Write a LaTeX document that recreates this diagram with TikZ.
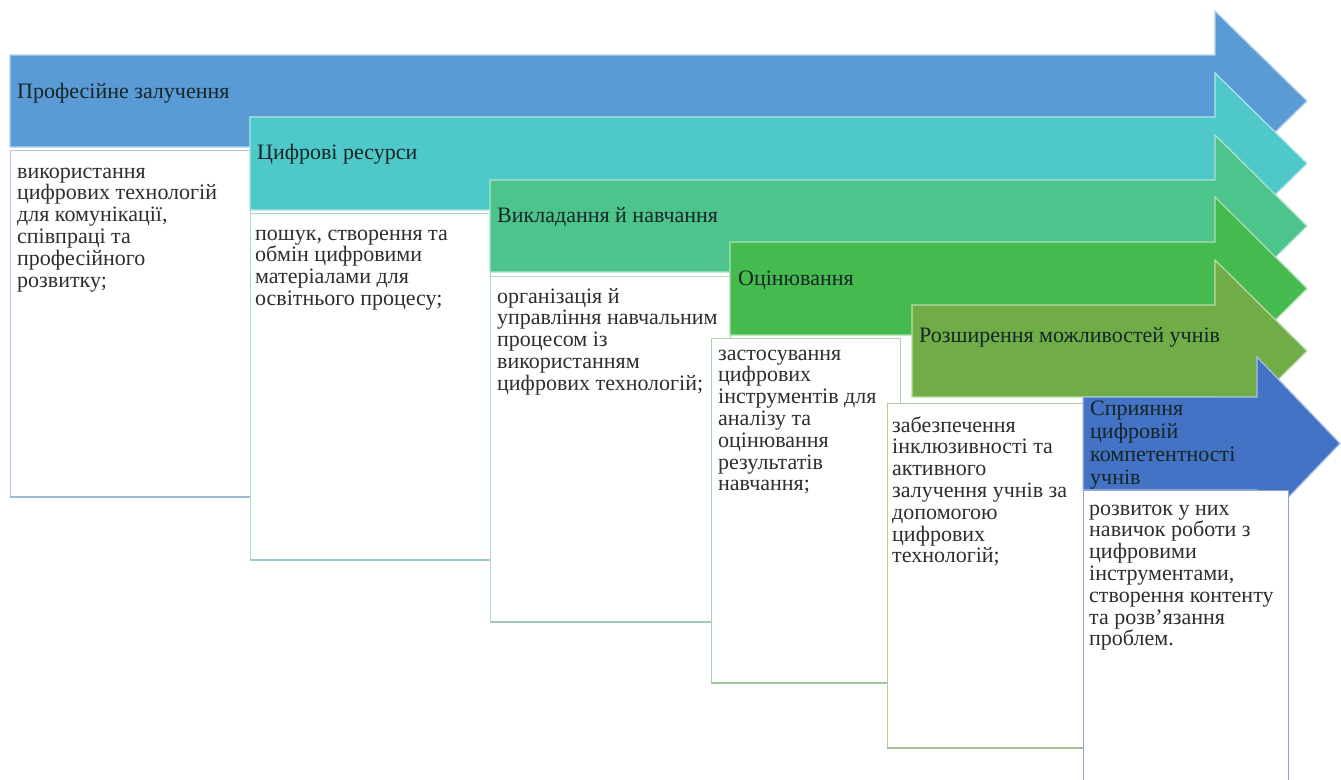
\documentclass[tikz,border=0pt]{standalone}
\usepackage{fontspec}
\setmainfont{Liberation Serif}
\definecolor{a1}{HTML}{5B9BD5}
\definecolor{a2}{HTML}{4EC8C8}
\definecolor{a3}{HTML}{4DC48C}
\definecolor{a4}{HTML}{45BA4E}
\definecolor{a5}{HTML}{70AD47}
\definecolor{a6}{HTML}{4472C4}
\definecolor{b1}{HTML}{A8C8E8}
\definecolor{b2}{HTML}{A0DCDC}
\definecolor{b3}{HTML}{A8DCC4}
\definecolor{b4}{HTML}{A8D8A8}
\definecolor{b5}{HTML}{B0D098}
\definecolor{b6}{HTML}{8CA6D6}
\definecolor{hdtext}{HTML}{142626}
\definecolor{bodytext}{HTML}{2E2E2E}
\newcommand{\lines}[1]{\parbox[t]{260pt}{\raggedright #1}}
\begin{document}
\begin{tikzpicture}[x=1pt,y=-1pt,
  arr/.style={draw=white!55!#1, line width=1.2pt, fill=#1},
  box/.style={draw=#1, line width=0.9pt, fill=white},
  boxshadow/.style={draw=#1!80!gray, line width=2pt},
  hd/.style={anchor=base west, inner sep=0pt, font=\fontsize{22}{23}\selectfont, text=hdtext},
  bt/.style={anchor=base west, inner sep=0pt, font=\fontsize{22}{21.8}\selectfont, text=bodytext}]
\useasboundingbox (0,0) rectangle (1341,779);
\fill[white] (0,0) rectangle (1341,779);

% arrow 1 + box 1
\path[arr=a1] (10,55) -- (1215,55) -- (1215,11) -- (1307,101) -- (1215,191) -- (1215,147) -- (10,147) -- cycle;
\node[hd] (h1) at (17,98) {Професійне залучення};
\path[box=b1] (10,150) rectangle (250,497);
\path[boxshadow=b1] (10,497) -- (250,497);
\node[bt] (t1) at (17,178) {\lines{використання\\цифрових технологій\\для комунікації,\\співпраці та\\професійного\\розвитку;}};

% arrow 2 + box 2
\path[arr=a2] (250,117) -- (1215,117) -- (1215,73) -- (1307,163.5) -- (1215,254) -- (1215,210) -- (250,210) -- cycle;
\node[hd] (h2) at (257,159) {Цифрові ресурси};
\path[box=b2] (250,213) rectangle (490,560);
\path[boxshadow=b2] (250,560) -- (490,560);
\node[bt] (t2) at (255,240) {\lines{пошук, створення та\\обмін цифровими\\матеріалами для\\освітнього процесу;}};

% arrow 3 + box 3
\path[arr=a3] (490,180) -- (1215,180) -- (1215,135) -- (1307,226) -- (1215,317) -- (1215,272) -- (490,272) -- cycle;
\node[hd] (h3) at (497,222) {Викладання й навчання};
\path[box=b3] (490,276) rectangle (730,622);
\path[boxshadow=b3] (490,622) -- (730,622);
\node[bt] (t3) at (497,303) {\lines{організація й\\управління навчальним\\процесом із\\використанням\\цифрових технологій;}};

% arrow 4 + box 4
\path[arr=a4] (730,242) -- (1215,242) -- (1215,197) -- (1307,288.5) -- (1215,380) -- (1215,335) -- (730,335) -- cycle;
\node[hd] (h4) at (738,285) {Оцінювання};
\path[box=b4] (711,338) rectangle (900,683);
\path[boxshadow=b4] (711,683) -- (900,683);
\node[bt] (t4) at (718,360) {\lines{застосування\\цифрових\\інструментів для\\аналізу та\\оцінювання\\результатів\\навчання;}};

% arrow 5 + box 5
\path[arr=a5] (912,305) -- (1215,305) -- (1215,260) -- (1307,351) -- (1215,442) -- (1215,397) -- (912,397) -- cycle;
\node[hd] (h5) at (919,342) {Розширення можливостей учнів};
\path[box=b5] (887,403) rectangle (1083,748);
\path[boxshadow=b5] (887,748) -- (1083,748);
\node[bt] (t5) at (892,432) {\lines{забезпечення\\інклюзивності та\\активного\\залучення учнів за\\допомогою\\цифрових\\технологій;}};

% arrow 6 + box 6
\path[arr=a6] (1083,397) -- (1257,397) -- (1257,357) -- (1340,443.5) -- (1257,530) -- (1257,490) -- (1083,490) -- cycle;
\node[hd] (h6) at (1090,415) {\lines{Сприяння\\цифровій\\компетентності\\учнів}};
\path[box=b6] (1083,490) rectangle (1288,800);
\node[bt] (t6) at (1089,515) {\lines{розвиток у них\\навичок роботи з\\цифровими\\інструментами,\\створення контенту\\та розв'язання\\проблем.}};
\end{tikzpicture}
\end{document}
